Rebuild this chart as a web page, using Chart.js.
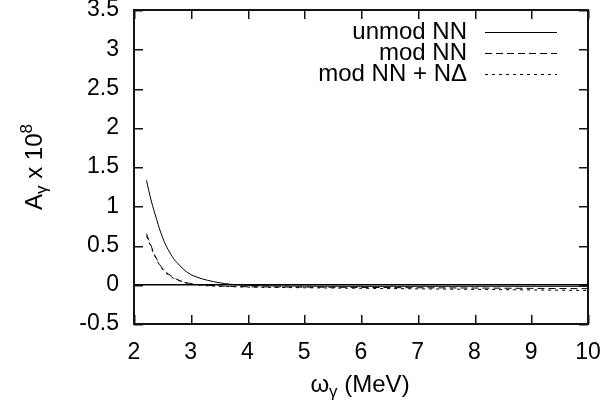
<!DOCTYPE html>
<html><head><meta charset="utf-8">
<script src="https://cdn.jsdelivr.net/npm/chart.js@4"></script>
<style>html,body{margin:0;padding:0;background:#fff}</style>
</head><body>
<canvas id="c" width="605" height="412" style="width:605px;height:412px;display:block"></canvas>
<script>
const xValues = [2.22, 2.26, 2.3, 2.35, 2.4, 2.45, 2.5, 2.55, 2.6, 2.7, 2.8, 2.9, 3.0, 3.1, 3.2, 3.4, 3.6, 3.8, 4.0, 4.5, 5, 6, 7, 8, 9, 10];
const unmodNN = [1.33, 1.2, 1.08, 0.95, 0.83, 0.71, 0.61, 0.52, 0.45, 0.33, 0.25, 0.18, 0.13, 0.10, 0.075, 0.04, 0.015, 0.0, -0.008, -0.015, -0.018, -0.02, -0.02, -0.02, -0.02, -0.02];
const modNN = [0.65, 0.57, 0.50, 0.40, 0.33, 0.26, 0.21, 0.17, 0.14, 0.09, 0.055, 0.03, 0.015, 0.005, -0.003, -0.012, -0.018, -0.022, -0.025, -0.028, -0.03, -0.034, -0.038, -0.042, -0.046, -0.05];
const modNNND = [0.62, 0.55, 0.48, 0.39, 0.32, 0.25, 0.20, 0.16, 0.13, 0.08, 0.05, 0.025, 0.01, 0.0, -0.008, -0.017, -0.022, -0.026, -0.03, -0.034, -0.038, -0.045, -0.052, -0.059, -0.066, -0.073];
const xTicks = [2, 3, 4, 5, 6, 7, 8, 9, 10];
const yTicks = [-0.5, 0, 0.5, 1, 1.5, 2, 2.5, 3, 3.5];
const seriesLabels = ['unmod NN', 'mod NN', 'mod NN + N\u0394'];
const seriesDash = [[], [7, 4], [3, 4]];
const FONT = '"Liberation Sans", Arial, Helvetica, sans-serif';
const INK = 'rgb(20,20,20)';

function pts(ys) { return xValues.map((x, i) => ({ x: x, y: ys[i] })); }

function drawFrame(chart) {
  const ctx = chart.ctx, a = chart.chartArea, xs = chart.scales.x, ys = chart.scales.y;
  ctx.save();
  ctx.strokeStyle = INK;
  ctx.lineWidth = 2;
  ctx.strokeRect(a.left, a.top, a.right - a.left, a.bottom - a.top);
  ctx.fillStyle = INK;
  const tl = 9;
  for (const v of xTicks) {
    const px = Math.round(xs.getPixelForValue(v));
    ctx.fillRect(px, a.bottom - tl, 1.5, tl);
    ctx.fillRect(px, a.top, 1.5, tl);
  }
  for (const v of yTicks) {
    const py = Math.round(ys.getPixelForValue(v));
    ctx.fillRect(a.left, py, tl, 1.5);
    ctx.fillRect(a.right - tl, py, tl, 1.5);
  }
  ctx.restore();
}

function drawTexts(chart) {
  const ctx = chart.ctx;
  ctx.save();
  ctx.fillStyle = '#000000';
  ctx.strokeStyle = '#000000';
  // legend
  ctx.font = '24px ' + FONT;
  ctx.textAlign = 'right';
  ctx.textBaseline = 'middle';
  const rows = [32, 53, 74];
  chart.data.datasets.forEach((ds, i) => {
    ctx.fillText(ds.label, 467, rows[i]);
    ctx.beginPath();
    ctx.lineWidth = 1;
    ctx.setLineDash(seriesDash[i]);
    ctx.moveTo(485, rows[i] + 0.5); ctx.lineTo(557, rows[i] + 0.5);
    ctx.stroke();
  });
  ctx.setLineDash([]);

  const big = '24px ' + FONT, small = '17px ' + FONT;
  // x title
  ctx.textAlign = 'left';
  ctx.textBaseline = 'alphabetic';
  ctx.font = big; const w1 = ctx.measureText('\u03c9').width;
  ctx.font = small; const w2 = ctx.measureText('\u03b3').width;
  ctx.font = big; const w3 = ctx.measureText(' (MeV)').width;
  const x0 = 360 - (w1 + w2 + w3) / 2, by = 392;
  ctx.font = big; ctx.fillText('\u03c9', x0, by);
  ctx.font = small; ctx.fillText('\u03b3', x0 + w1, by + 5);
  ctx.font = big; ctx.fillText(' (MeV)', x0 + w1 + w2, by);

  // y title
  ctx.translate(42, 167);
  ctx.rotate(-Math.PI / 2);
  ctx.font = big; const a1 = ctx.measureText('A').width;
  ctx.font = small; const a2 = ctx.measureText('\u03b3').width;
  ctx.font = big; const a3 = ctx.measureText(' x 10').width;
  ctx.font = small; const a4 = ctx.measureText('8').width;
  const s = -(a1 + a2 + a3 + a4) / 2;
  ctx.font = big; ctx.fillText('A', s, 0);
  ctx.font = small; ctx.fillText('\u03b3', s + a1, 5);
  ctx.font = big; ctx.fillText(' x 10', s + a1 + a2, 0);
  ctx.font = small; ctx.fillText('8', s + a1 + a2 + a3, -10);
  ctx.restore();
}

const decorPlugin = {
  id: 'gnuDecor',
  afterDraw(chart) {
    drawTexts(chart);
    drawFrame(chart);
  }
};

function fixPad(s) { s.paddingLeft = 0; s.paddingRight = 0; s.paddingTop = 0; s.paddingBottom = 0; }

new Chart(document.getElementById('c'), {
  type: 'line',
  data: {
    datasets: [
      { label: seriesLabels[0], data: pts(unmodNN), borderColor: '#000', borderWidth: 1, borderDash: seriesDash[0], pointRadius: 0, fill: false, cubicInterpolationMode: 'monotone' },
      { label: seriesLabels[1], data: pts(modNN), borderColor: '#000', borderWidth: 1, borderDash: seriesDash[1], pointRadius: 0, fill: false, cubicInterpolationMode: 'monotone' },
      { label: seriesLabels[2], data: pts(modNNND), borderColor: '#000', borderWidth: 1, borderDash: seriesDash[2], pointRadius: 0, fill: false, cubicInterpolationMode: 'monotone' }
    ]
  },
  options: {
    responsive: false,
    animation: false,
    devicePixelRatio: 1,
    layout: { padding: { top: 10, right: 17, left: 0, bottom: 0 } },
    plugins: { legend: { display: false }, tooltip: { enabled: false } },
    scales: {
      x: {
        type: 'linear', min: 2, max: 10,
        afterBuildTicks: s => { s.ticks = xTicks.map(v => ({ value: v })); },
        afterFit: s => { s.height = 88; fixPad(s); },
        ticks: { color: '#000', font: { size: 23, family: FONT }, padding: 15, maxRotation: 0 },
        grid: { display: false, drawTicks: false },
        border: { display: false }
      },
      y: {
        type: 'linear', min: -0.5, max: 3.5,
        afterBuildTicks: s => { s.ticks = yTicks.map(v => ({ value: v })); },
        afterFit: s => { s.width = 134; fixPad(s); },
        ticks: { color: '#000', font: { size: 23, family: FONT }, padding: 15, callback: v => String(v) },
        grid: {
          drawTicks: false,
          color: c => (c.tick && c.tick.value === 0) ? '#000' : 'rgba(0,0,0,0)',
          lineWidth: 1.5
        },
        border: { display: false }
      }
    }
  },
  plugins: [decorPlugin]
});
</script>
</body></html>
